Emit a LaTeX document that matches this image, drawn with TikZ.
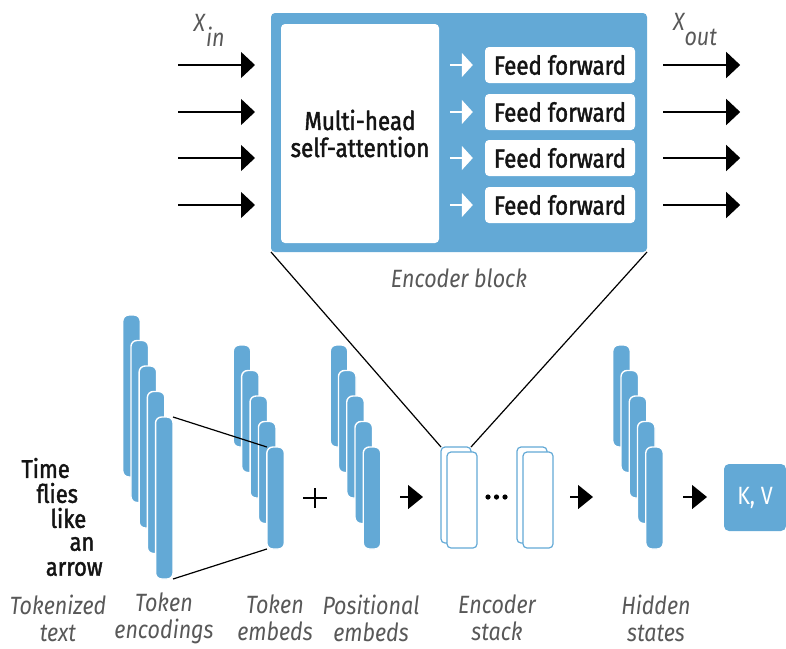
\documentclass[tikz,border=0pt]{standalone}
\usepackage{fontspec}
\setmainfont{Fira Sans}[FakeStretch=0.86]
\newfontfamily\medfont{Fira Sans}[FakeStretch=0.86,FakeBold=1.6]
\usetikzlibrary{arrows.meta}
\definecolor{bblue}{RGB}{99,169,214}
\definecolor{lgrey}{RGB}{88,88,88}
\definecolor{tblack}{RGB}{20,20,20}
\begin{document}
\begin{tikzpicture}[x=1pt,y=-1pt,
  bar/.style={draw=white, line width=1.4pt, fill=bblue, rounded corners=6pt,
    minimum width=17.5pt, inner sep=0pt, outer sep=0pt},
  ffbox/.style={fill=white, rounded corners=4pt, minimum width=150pt, minimum height=36pt,
    inner sep=0pt, text=tblack, font=\medfont\fontsize{26}{27}\selectfont},
  esbox/.style={draw=bblue, fill=white, line width=1.2pt, rounded corners=4pt,
    minimum width=30pt, minimum height=96pt, inner sep=0pt, outer sep=0pt},
  lab/.style={text=lgrey, align=center, font=\fontsize{25}{27}\selectfont\itshape},
  word/.style={anchor=east, text=tblack, inner sep=0pt, font=\medfont\fontsize{25.5}{25}\selectfont},
  arr/.style={line width=1.3pt, -{Triangle[length=14pt,width=26pt]}},
  sarr/.style={line width=1.3pt, -{Triangle[length=15pt,width=24pt]}},
  warr/.style={draw=white, line width=1.3pt, -{Triangle[length=11pt,width=24pt]}},
  link/.style={line width=1.2pt, draw=black}
]
\useasboundingbox (0,0) rectangle (786,648);

% Encoder block
\node[fill=bblue, rounded corners=4pt, minimum width=376pt, minimum height=239pt,
  inner sep=0pt, outer sep=0pt] (block) at (459,132.5) {};
\node[fill=white, rounded corners=4pt, minimum width=158pt, minimum height=219pt,
  inner sep=0pt, align=center, text=tblack, font=\medfont\fontsize{26}{27}\selectfont]
  (mha) at (360,133.5) {Multi-head\\self-attention};
\foreach \i/\y in {1/65,2/112,3/158,4/205}{
  \node[ffbox] (ff\i) at (560,\y) {Feed forward};
  \coordinate (in\i) at (178,\y);
  \coordinate (ine\i) at (255,\y);
  \draw[arr] (in\i) -- (ine\i);
  \draw[warr] ([xshift=-35pt]ff\i.west) -- ([xshift=-12pt]ff\i.west);
  \draw[arr] ([xshift=28pt]ff\i.east) -- ([xshift=105pt]ff\i.east);
}
\node[lab, inner sep=0pt] (xin) at (209,30) {X\kern1pt\raisebox{-15pt}{in}};
\node[lab, inner sep=0pt] (xout) at (695,30) {X\kern0pt\raisebox{-15pt}{out}};
\node[lab] (blocklab) at (459,278) {Encoder block};

% Tokenized text
\foreach \i/\w/\y in {1/Time/468,2/flies/493,3/like/518,4/an/544,5/arrow/569}{
  \node[word] (w\i) at ({70+8.2*(\i-1)},\y) {\w};
}

% Token encodings
\foreach \i in {1,...,5}{
  \node[bar, minimum height=162pt] (enc\i) at ({131.5+8.2*(\i-1)},{396+25.5*(\i-1)}) {};
}
% Token embeds
\foreach \i in {1,...,5}{
  \node[bar, minimum height=102pt] (emb\i) at ({242+8.4*(\i-1)},{396+25.5*(\i-1)}) {};
}
\draw[link] (enc5.north east) -- (emb5.north west);
\draw[link] (enc5.south east) -- (emb5.south west);

\coordinate (plus) at (315,498);
\draw[line width=1.2pt] ([xshift=-12pt]plus) -- ([xshift=12pt]plus);
\draw[line width=1.2pt] ([yshift=-10pt]plus) -- ([yshift=10pt]plus);

% Positional embeds
\foreach \i in {1,...,5}{
  \node[bar, minimum height=102pt] (pos\i) at ({339+8.25*(\i-1)},{396+25.5*(\i-1)}) {};
}
\coordinate (a1s) at (400,497);
\coordinate (a1e) at (423,497);
\draw[sarr] (a1s) -- (a1e);

% Encoder stack
\node[esbox] (esb1) at (456,495) {};
\node[esbox] (esf1) at (462,500) {};
\node[esbox] (esb2) at (532,495) {};
\node[esbox] (esf2) at (538,500) {};
\draw[link] (block.south west) -- (esb1.north west);
\draw[link] (block.south east) -- (esb1.north east);
\foreach \x in {488,496.5,505}{\fill[black] (\x,497) circle (2.6pt);}

\coordinate (a2s) at (570,497);
\coordinate (a2e) at (593,497);
\draw[sarr] (a2s) -- (a2e);

% Hidden states
\foreach \i in {1,...,5}{
  \node[bar, minimum height=102pt] (hid\i) at ({621.5+8.25*(\i-1)},{396+25.5*(\i-1)}) {};
}
\coordinate (a3s) at (683,497);
\coordinate (a3e) at (707,497);
\draw[sarr] (a3s) -- (a3e);

\node[fill=bblue, rounded corners=5pt, minimum width=62pt, minimum height=67pt,
  inner sep=0pt, text=white, font=\fontsize{25}{25}\selectfont] (kv) at (755,497.5) {K, V};

% Labels
\node[lab] (l1) at (58,618) {Tokenized\\text};
\node[lab] (l2) at (164,618) {Token\\encodings};
\node[lab] (l3) at (275,618) {Token\\embeds};
\node[lab] (l4) at (371,618) {Positional\\embeds};
\node[lab] (l5) at (497,618) {Encoder\\stack};
\node[lab] (l6) at (656,618.5) {Hidden\\states};
\end{tikzpicture}
\end{document}
